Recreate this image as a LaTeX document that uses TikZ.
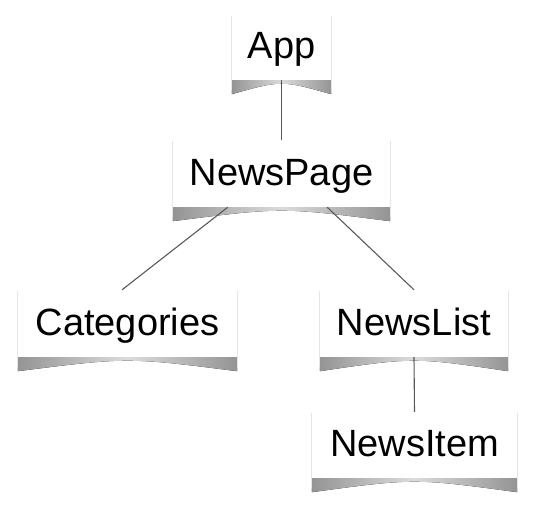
\documentclass[tikz,border=0pt]{standalone}
\usepackage{fontspec}
\setmainfont{Liberation Sans}
\usetikzlibrary{backgrounds,calc,fadings}
\tikzset{
  paper/.style={rectangle, fill=white, inner sep=0pt, text height=30pt, text depth=7pt,
    font=\fontsize{38}{40}\selectfont},
  link/.style={draw=black!65, line width=1.1pt},
  curlshadow/.style={left color=black!42, right color=black!42, middle color=black!14, draw=none},
  sideedge/.style={draw=black!10, line width=1.2pt}
}
\newcommand{\papershadow}[1]{%
  \fill[curlshadow] (#1.south west) -- ([yshift=-14pt]#1.south west)
    .. controls ([yshift=0pt]#1.south) and ([yshift=0pt]#1.south) .. ([yshift=-14pt]#1.south east)
    -- (#1.south east) -- cycle;
  \draw[sideedge] ([yshift=-1pt]#1.north west) -- ([yshift=-10pt]#1.south west);
  \draw[sideedge] ([yshift=-1pt]#1.north east) -- ([yshift=-10pt]#1.south east);
}
\begin{document}
\begin{tikzpicture}[x=1pt,y=-1pt]
\useasboundingbox (0,0) rectangle (540,513);
\node[paper, minimum width=99pt, minimum height=65pt] (app) at (281.5,47.5) {App};
\node[paper, minimum width=217pt, minimum height=67pt] (np) at (281.5,173.5) {NewsPage};
\node[paper, minimum width=219pt, minimum height=67pt] (cat) at (127.5,323.5) {Categories};
\node[paper, minimum width=188pt, minimum height=67pt] (nl) at (414,323.5) {NewsList};
\node[paper, minimum width=205pt, minimum height=66pt] (ni) at (414.5,445) {NewsItem};
\begin{scope}[on background layer]
  \papershadow{app}
  \papershadow{np}
  \papershadow{cat}
  \papershadow{nl}
  \papershadow{ni}
\end{scope}
\draw[link] (app.south) -- (np.north);
\draw[link] ($(np.south west)!0.253!(np.south east)$) -- ($(cat.north west)!0.475!(cat.north east)$);
\draw[link] ($(np.south west)!0.71!(np.south east)$) -- (nl.north);
\draw[link] (nl.south) -- (ni.north);
\end{tikzpicture}
\end{document}
